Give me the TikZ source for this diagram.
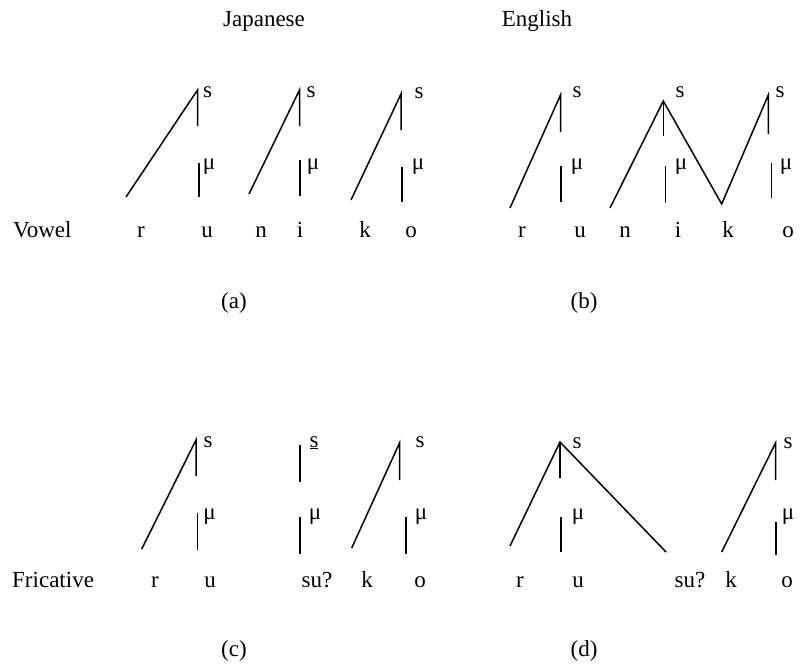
\documentclass[tikz,border=0pt]{standalone}
\usepackage{fontspec}
\setmainfont{Liberation Serif}
\begin{document}
\begin{tikzpicture}[x=1pt,y=-1pt,
  lbl/.style={inner sep=0pt,anchor=base,font=\fontsize{23}{27}\selectfont},
  lblw/.style={inner sep=0pt,anchor=base west,font=\fontsize{23}{27}\selectfont},
  assoc/.style={line width=1.5pt,line cap=butt}]
\useasboundingbox[fill=white] (0,0) rectangle (809,669);
% titles
\node[lbl] (tJ) at (264,27) {Japanese};
\node[lbl] (tE) at (537,27) {English};
\node[lblw] (tV) at (13,237) {Vowel};
\node[lblw] (tF) at (12,587) {Fricative};
\node[lbl] (ca) at (234,308) {(a)};
\node[lbl] (cb) at (584,308) {(b)};
\node[lbl] (cc) at (234,656) {(c)};
\node[lbl] (cd) at (584,656) {(d)};
% ---------- panel (a)
\foreach \n/\t/\x in {ar/r/141,au/u/207,an/n/261,ai/i/300,ak/k/365,ao/o/411}
  \node[lbl] (\n) at (\x,237) {\t};
\node[lbl] (as1) at (207.5,97) {s};
\node[lbl] (as2) at (311,97) {s};
\node[lbl] (as3) at (419,99) {s};
\node[lbl] (am1) at (209,169) {μ};
\node[lbl] (am2) at (313,169) {μ};
\node[lbl] (am3) at (418,169) {μ};
\coordinate (aA1) at (197.5,90);  \coordinate (aL1) at (126,197);  \coordinate (aV1) at (197.5,126);
\coordinate (aA2) at (299.5,90);  \coordinate (aL2) at (249,194);  \coordinate (aV2) at (299.5,126);
\coordinate (aA3) at (401,94);    \coordinate (aL3) at (351,200);  \coordinate (aV3) at (401,130);
\coordinate (aM1t) at (199,163); \coordinate (aM1b) at (199,197);
\coordinate (aM2t) at (300,160); \coordinate (aM2b) at (300,196);
\coordinate (aM3t) at (402,167); \coordinate (aM3b) at (402,202);
\draw[assoc] (aL1) -- (aA1) -- (aV1);
\draw[assoc] (aL2) -- (aA2) -- (aV2);
\draw[assoc] (aL3) -- (aA3) -- (aV3);
\draw[assoc] (aM1t) -- (aM1b);
\draw[assoc] (aM2t) -- (aM2b);
\draw[assoc] (aM3t) -- (aM3b);
% ---------- panel (b)
\foreach \n/\t/\x in {br/r/522,bu/u/580,bn/n/625,bi/i/678,bk/k/728,bo/o/788}
  \node[lbl] (\n) at (\x,237) {\t};
\node[lbl] (bs1) at (577,97) {s};
\node[lbl] (bs2) at (680,97) {s};
\node[lbl] (bs3) at (780,97) {s};
\node[lbl] (bm1) at (577,169) {μ};
\node[lbl] (bm2) at (681,169) {μ};
\node[lbl] (bm3) at (786,169) {μ};
\coordinate (bA1) at (560.5,95);  \coordinate (bL1) at (510,208);  \coordinate (bV1) at (560.5,132);
\coordinate (bA2) at (663.3,101); \coordinate (bL2) at (610,208);  \coordinate (bV2) at (663.3,136);
\coordinate (bK) at (721.7,204);
\coordinate (bA3) at (768.3,95);  \coordinate (bV3) at (768.3,134);
\coordinate (bM1t) at (561,166);   \coordinate (bM1b) at (561,202);
\coordinate (bM2t) at (665.7,166); \coordinate (bM2b) at (665.7,203);
\coordinate (bM3t) at (771.7,163); \coordinate (bM3b) at (771.7,198);
\draw[assoc] (bL1) -- (bA1) -- (bV1);
\draw[assoc] (bL2) -- (bA2) -- (bK) -- (bA3) -- (bV3);
\draw[assoc] (bA2) -- (bV2);
\draw[assoc] (bM1t) -- (bM1b);
\draw[assoc] (bM2t) -- (bM2b);
\draw[assoc] (bM3t) -- (bM3b);
% ---------- panel (c)
\foreach \n/\t/\x in {cr/r/155,cu/u/210,csu/su?/317,ck/k/367,co/o/420}
  \node[lbl] (\n) at (\x,587) {\t};
\node[lbl] (cs1) at (208,447) {s};
\node[lbl] (cs2) at (314,447) {\underline{s}};
\node[lbl] (cs3) at (420,447) {s};
\node[lbl] (cm1) at (209.5,519) {μ};
\node[lbl] (cm2) at (315,519) {μ};
\node[lbl] (cm3) at (421,519) {μ};
\coordinate (cA1) at (196,440);   \coordinate (cL1) at (141.7,549); \coordinate (cV1) at (196,476);
\coordinate (cA2) at (300,445);   \coordinate (cV2) at (300,482);
\coordinate (cA3) at (399.5,443); \coordinate (cL3) at (351.7,548); \coordinate (cV3) at (399.5,480);
\coordinate (cM1t) at (197.7,513); \coordinate (cM1b) at (197.7,550);
\coordinate (cM2t) at (300,517);   \coordinate (cM2b) at (300,554);
\coordinate (cM3t) at (406,517);   \coordinate (cM3b) at (406,554);
\draw[assoc] (cL1) -- (cA1) -- (cV1);
\draw[assoc] (cA2) -- (cV2);
\draw[assoc] (cL3) -- (cA3) -- (cV3);
\draw[assoc] (cM1t) -- (cM1b);
\draw[assoc] (cM2t) -- (cM2b);
\draw[assoc] (cM3t) -- (cM3b);
% ---------- panel (d)
\foreach \n/\t/\x in {dr/r/520,du/u/578,dsu/su?/690,dk/k/731,do/o/787}
  \node[lbl] (\n) at (\x,587) {\t};
\node[lbl] (ds1) at (577,448) {s};
\node[lbl] (ds2) at (788,448) {s};
\node[lbl] (dm1) at (578,519) {μ};
\node[lbl] (dm2) at (788,519) {μ};
\coordinate (dA1) at (560,442);   \coordinate (dL1) at (510,546); \coordinate (dR1) at (666,552); \coordinate (dV1) at (560,478);
\coordinate (dA2) at (775.5,443); \coordinate (dL2) at (721.7,552); \coordinate (dV2) at (775.5,480);
\coordinate (dM1t) at (561,517); \coordinate (dM1b) at (561,552);
\coordinate (dM2t) at (776,522); \coordinate (dM2b) at (776,555);
\draw[assoc] (dL1) -- (dA1) -- (dR1);
\draw[assoc] (dA1) -- (dV1);
\draw[assoc] (dL2) -- (dA2) -- (dV2);
\draw[assoc] (dM1t) -- (dM1b);
\draw[assoc] (dM2t) -- (dM2b);
\end{tikzpicture}
\end{document}
